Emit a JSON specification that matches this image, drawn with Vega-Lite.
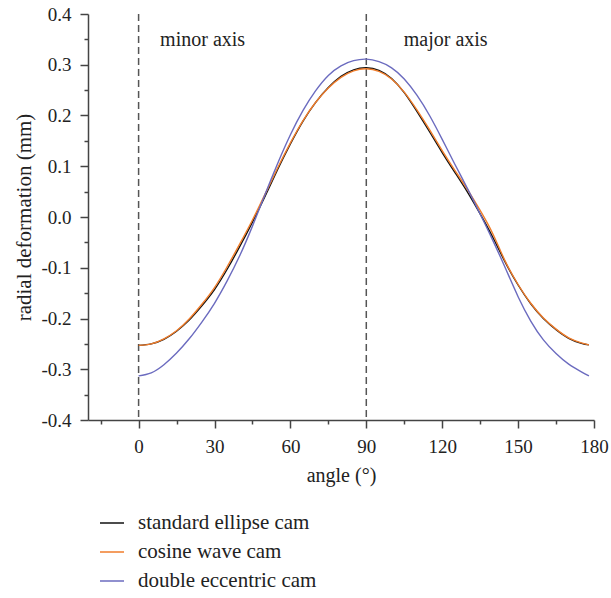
{
  "$schema": "https://vega.github.io/schema/vega-lite/v6.json",
  "width": 506,
  "height": 406,
  "autosize": {"type": "none"},
  "padding": {"left": 88, "top": 14, "right": 17, "bottom": 178},
  "background": "white",
  "config": {"view": {"stroke": null}, "font": "Liberation Serif"},
  "encoding": {
    "x": {
      "field": "angle", "type": "quantitative",
      "scale": {"domain": [-20, 180], "nice": false, "zero": false},
      "axis": {
        "title": "angle (°)",
        "values": [-15, 0, 15, 30, 45, 60, 75, 90, 105, 120, 135, 150, 165, 180],
        "labelExpr": "datum.value % 30 === 0 ? datum.label : ''",
        "tickSize": {"condition": {"test": "datum.value % 30 !== 0", "value": 4}, "value": 8},
        "grid": false,
        "domainColor": "#444", "tickColor": "#444", "domainWidth": 1.5, "tickWidth": 1.5,
        "labelFontSize": 19, "titleFontSize": 20, "titleFontWeight": "normal",
        "labelColor": "#222", "titleColor": "#222",
        "labelPadding": 9, "titlePadding": 9,
        "labelFont": "Liberation Serif", "titleFont": "Liberation Serif",
        "labelFlush": false, "labelOverlap": false
      }
    },
    "y": {
      "field": "value", "type": "quantitative",
      "scale": {"domain": [-0.4, 0.4], "nice": false, "zero": false},
      "axis": {
        "title": "radial deformation (mm)",
        "values": [-0.4, -0.35, -0.3, -0.25, -0.2, -0.15, -0.1, -0.05, 0, 0.05, 0.1, 0.15, 0.2, 0.25, 0.3, 0.35, 0.4],
        "labelExpr": "abs(datum.value*10 - round(datum.value*10)) < 0.001 ? replace(format(datum.value, '.1f'), '\u2212', '-') : ''",
        "tickSize": {"condition": {"test": "abs(datum.value*10 - round(datum.value*10)) > 0.001", "value": 4}, "value": 8},
        "grid": false,
        "domainColor": "#444", "tickColor": "#444", "domainWidth": 1.5, "tickWidth": 1.5,
        "labelFontSize": 19, "titleFontSize": 21, "titleFontWeight": "normal",
        "labelColor": "#222", "titleColor": "#222",
        "labelPadding": 9, "titlePadding": 6,
        "labelFont": "Liberation Serif", "titleFont": "Liberation Serif",
        "labelFlush": false, "labelOverlap": false
      }
    }
  },
  "layer": [
    {
      "data": {"values": [{"angle": 0, "value": 0.4, "value_end": -0.4}, {"angle": 90, "value": 0.4, "value_end": -0.4}]},
      "mark": {"type": "rule", "strokeDash": [7, 4], "color": "#555", "strokeWidth": 1.5},
      "encoding": {"y2": {"field": "value_end"}}
    },
    {
      "data": {"values": [
        {"cam": "standard ellipse cam", "angle": 0, "value": -0.253},
        {"cam": "standard ellipse cam", "angle": 5, "value": -0.250},
        {"cam": "standard ellipse cam", "angle": 10, "value": -0.241},
        {"cam": "standard ellipse cam", "angle": 15, "value": -0.225},
        {"cam": "standard ellipse cam", "angle": 20, "value": -0.203},
        {"cam": "standard ellipse cam", "angle": 25, "value": -0.175},
        {"cam": "standard ellipse cam", "angle": 30, "value": -0.143},
        {"cam": "standard ellipse cam", "angle": 35, "value": -0.103},
        {"cam": "standard ellipse cam", "angle": 40, "value": -0.058},
        {"cam": "standard ellipse cam", "angle": 45, "value": -0.010},
        {"cam": "standard ellipse cam", "angle": 50, "value": 0.041},
        {"cam": "standard ellipse cam", "angle": 55, "value": 0.094},
        {"cam": "standard ellipse cam", "angle": 60, "value": 0.144},
        {"cam": "standard ellipse cam", "angle": 65, "value": 0.189},
        {"cam": "standard ellipse cam", "angle": 70, "value": 0.226},
        {"cam": "standard ellipse cam", "angle": 75, "value": 0.255},
        {"cam": "standard ellipse cam", "angle": 80, "value": 0.277},
        {"cam": "standard ellipse cam", "angle": 85, "value": 0.290},
        {"cam": "standard ellipse cam", "angle": 90, "value": 0.294},
        {"cam": "standard ellipse cam", "angle": 95, "value": 0.289},
        {"cam": "standard ellipse cam", "angle": 100, "value": 0.273},
        {"cam": "standard ellipse cam", "angle": 105, "value": 0.245},
        {"cam": "standard ellipse cam", "angle": 110, "value": 0.208},
        {"cam": "standard ellipse cam", "angle": 115, "value": 0.168},
        {"cam": "standard ellipse cam", "angle": 120, "value": 0.127},
        {"cam": "standard ellipse cam", "angle": 125, "value": 0.088},
        {"cam": "standard ellipse cam", "angle": 130, "value": 0.049},
        {"cam": "standard ellipse cam", "angle": 135, "value": 0.006},
        {"cam": "standard ellipse cam", "angle": 140, "value": -0.040},
        {"cam": "standard ellipse cam", "angle": 145, "value": -0.090},
        {"cam": "standard ellipse cam", "angle": 150, "value": -0.134},
        {"cam": "standard ellipse cam", "angle": 155, "value": -0.171},
        {"cam": "standard ellipse cam", "angle": 160, "value": -0.200},
        {"cam": "standard ellipse cam", "angle": 165, "value": -0.222},
        {"cam": "standard ellipse cam", "angle": 170, "value": -0.239},
        {"cam": "standard ellipse cam", "angle": 175, "value": -0.249},
        {"cam": "standard ellipse cam", "angle": 178, "value": -0.252},
        {"cam": "cosine wave cam", "angle": 0, "value": -0.253},
        {"cam": "cosine wave cam", "angle": 5, "value": -0.250},
        {"cam": "cosine wave cam", "angle": 10, "value": -0.240},
        {"cam": "cosine wave cam", "angle": 15, "value": -0.224},
        {"cam": "cosine wave cam", "angle": 20, "value": -0.201},
        {"cam": "cosine wave cam", "angle": 25, "value": -0.172},
        {"cam": "cosine wave cam", "angle": 30, "value": -0.139},
        {"cam": "cosine wave cam", "angle": 35, "value": -0.098},
        {"cam": "cosine wave cam", "angle": 40, "value": -0.053},
        {"cam": "cosine wave cam", "angle": 45, "value": -0.006},
        {"cam": "cosine wave cam", "angle": 50, "value": 0.045},
        {"cam": "cosine wave cam", "angle": 55, "value": 0.097},
        {"cam": "cosine wave cam", "angle": 60, "value": 0.146},
        {"cam": "cosine wave cam", "angle": 65, "value": 0.190},
        {"cam": "cosine wave cam", "angle": 70, "value": 0.226},
        {"cam": "cosine wave cam", "angle": 75, "value": 0.254},
        {"cam": "cosine wave cam", "angle": 80, "value": 0.275},
        {"cam": "cosine wave cam", "angle": 85, "value": 0.288},
        {"cam": "cosine wave cam", "angle": 90, "value": 0.292},
        {"cam": "cosine wave cam", "angle": 95, "value": 0.287},
        {"cam": "cosine wave cam", "angle": 100, "value": 0.272},
        {"cam": "cosine wave cam", "angle": 105, "value": 0.246},
        {"cam": "cosine wave cam", "angle": 110, "value": 0.211},
        {"cam": "cosine wave cam", "angle": 115, "value": 0.172},
        {"cam": "cosine wave cam", "angle": 120, "value": 0.131},
        {"cam": "cosine wave cam", "angle": 125, "value": 0.092},
        {"cam": "cosine wave cam", "angle": 130, "value": 0.054},
        {"cam": "cosine wave cam", "angle": 135, "value": 0.013},
        {"cam": "cosine wave cam", "angle": 140, "value": -0.033},
        {"cam": "cosine wave cam", "angle": 145, "value": -0.088},
        {"cam": "cosine wave cam", "angle": 150, "value": -0.133},
        {"cam": "cosine wave cam", "angle": 155, "value": -0.170},
        {"cam": "cosine wave cam", "angle": 160, "value": -0.199},
        {"cam": "cosine wave cam", "angle": 165, "value": -0.221},
        {"cam": "cosine wave cam", "angle": 170, "value": -0.238},
        {"cam": "cosine wave cam", "angle": 175, "value": -0.248},
        {"cam": "cosine wave cam", "angle": 178, "value": -0.252},
        {"cam": "double eccentric cam", "angle": 0, "value": -0.313},
        {"cam": "double eccentric cam", "angle": 5, "value": -0.307},
        {"cam": "double eccentric cam", "angle": 10, "value": -0.291},
        {"cam": "double eccentric cam", "angle": 15, "value": -0.268},
        {"cam": "double eccentric cam", "angle": 20, "value": -0.240},
        {"cam": "double eccentric cam", "angle": 25, "value": -0.207},
        {"cam": "double eccentric cam", "angle": 30, "value": -0.170},
        {"cam": "double eccentric cam", "angle": 35, "value": -0.126},
        {"cam": "double eccentric cam", "angle": 40, "value": -0.076},
        {"cam": "double eccentric cam", "angle": 45, "value": -0.018},
        {"cam": "double eccentric cam", "angle": 50, "value": 0.045},
        {"cam": "double eccentric cam", "angle": 55, "value": 0.106},
        {"cam": "double eccentric cam", "angle": 60, "value": 0.162},
        {"cam": "double eccentric cam", "angle": 65, "value": 0.210},
        {"cam": "double eccentric cam", "angle": 70, "value": 0.249},
        {"cam": "double eccentric cam", "angle": 75, "value": 0.279},
        {"cam": "double eccentric cam", "angle": 80, "value": 0.298},
        {"cam": "double eccentric cam", "angle": 85, "value": 0.308},
        {"cam": "double eccentric cam", "angle": 90, "value": 0.311},
        {"cam": "double eccentric cam", "angle": 95, "value": 0.306},
        {"cam": "double eccentric cam", "angle": 100, "value": 0.294},
        {"cam": "double eccentric cam", "angle": 105, "value": 0.272},
        {"cam": "double eccentric cam", "angle": 110, "value": 0.240},
        {"cam": "double eccentric cam", "angle": 115, "value": 0.200},
        {"cam": "double eccentric cam", "angle": 120, "value": 0.153},
        {"cam": "double eccentric cam", "angle": 125, "value": 0.104},
        {"cam": "double eccentric cam", "angle": 130, "value": 0.056},
        {"cam": "double eccentric cam", "angle": 135, "value": 0.006},
        {"cam": "double eccentric cam", "angle": 140, "value": -0.046},
        {"cam": "double eccentric cam", "angle": 145, "value": -0.101},
        {"cam": "double eccentric cam", "angle": 150, "value": -0.157},
        {"cam": "double eccentric cam", "angle": 155, "value": -0.205},
        {"cam": "double eccentric cam", "angle": 160, "value": -0.242},
        {"cam": "double eccentric cam", "angle": 165, "value": -0.269},
        {"cam": "double eccentric cam", "angle": 170, "value": -0.290},
        {"cam": "double eccentric cam", "angle": 175, "value": -0.305},
        {"cam": "double eccentric cam", "angle": 178, "value": -0.313}
      ]},
      "mark": {"type": "line", "strokeWidth": 1.4, "interpolate": "natural"},
      "encoding": {
        "color": {
          "field": "cam", "type": "nominal",
          "scale": {"domain": ["standard ellipse cam", "cosine wave cam", "double eccentric cam"], "range": ["#111111", "#f07d2b", "#6b6bbf"]},
          "legend": {
            "orient": "none", "legendX": 11, "legendY": 496, "title": null,
            "symbolType": "stroke", "symbolSize": 576, "symbolStrokeWidth": 1.5,
            "labelFontSize": 21, "labelFont": "Liberation Serif", "labelColor": "#222",
            "labelOffset": 13, "labelLimit": 0, "rowPadding": 6, "padding": 0
          }
        }
      }
    },
    {
      "data": {"values": [
        {"angle": 8.5, "value": 0.348, "label": "minor axis"},
        {"angle": 104.8, "value": 0.348, "label": "major axis"}
      ]},
      "mark": {"type": "text", "align": "left", "baseline": "middle", "fontSize": 20, "font": "Liberation Serif", "color": "#222"},
      "encoding": {"text": {"field": "label", "type": "nominal"}}
    }
  ]
}
